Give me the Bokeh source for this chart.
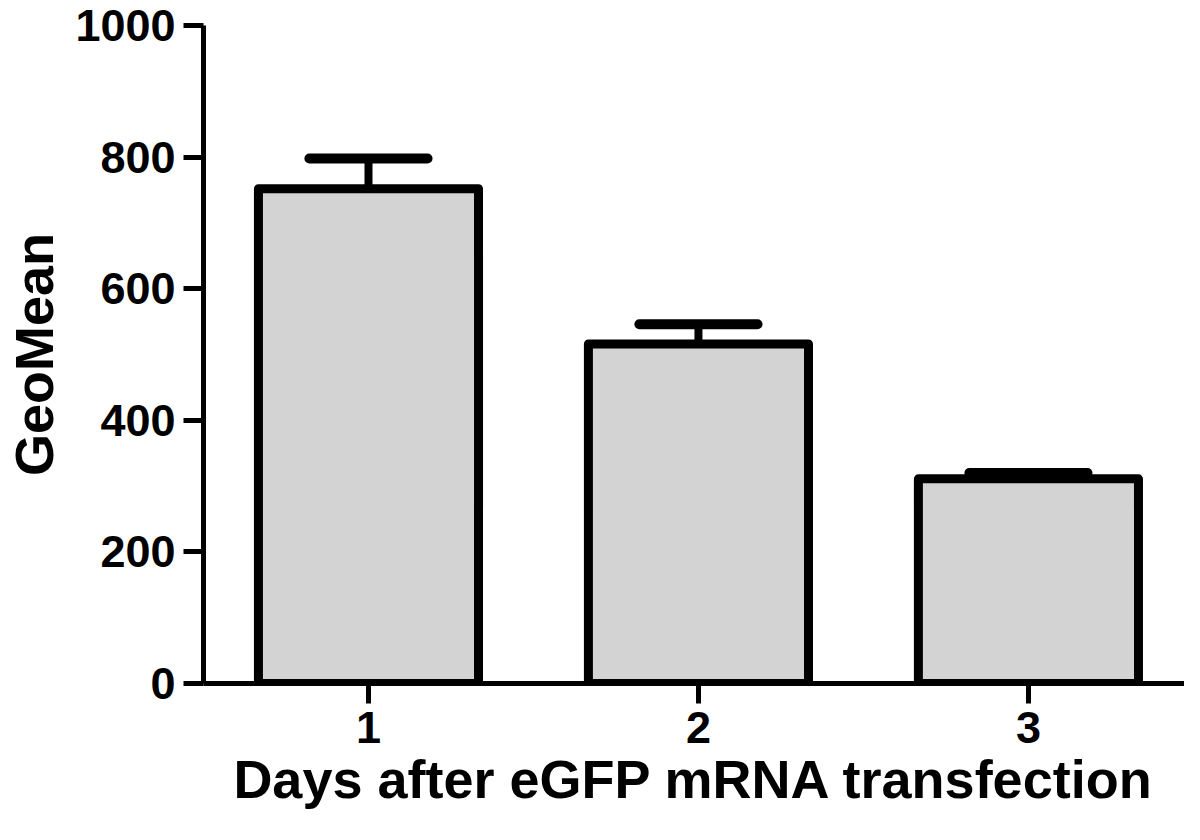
from bokeh.plotting import figure
from bokeh.models import FixedTicker, Range1d, ColumnDataSource
from bokeh.embed import file_html
from bokeh.resources import INLINE

# Data
days = [1, 2, 3]
day_labels = ["1", "2", "3"]
geomean = [752, 516, 311]
upper = [798, 546, 320]
y_ticks = [0, 200, 400, 600, 800, 1000]

FONT = "Liberation Sans"
BAR_W = 0.667
CAP_HALF = 0.179

src = ColumnDataSource(dict(
    x=days, top=geomean, up=upper,
    cl=[d - CAP_HALF for d in days], cr=[d + CAP_HALF for d in days],
))

p = figure(width=1184, height=824, output_backend="svg", toolbar_location=None,
           x_range=Range1d(0.5, 3.473), y_range=Range1d(0, 1000),
           min_border_left=203, min_border_right=0, min_border_top=25,
           min_border_bottom=141)
p.background_fill_color = "white"
p.border_fill_color = "white"
p.outline_line_color = None
p.xgrid.visible = False
p.ygrid.visible = False

# error bars (stem + cap)
p.segment(x0="x", y0="top", x1="x", y1="up", source=src,
          line_color="black", line_width=8)
p.segment(x0="cl", y0="up", x1="cr", y1="up", source=src,
          line_color="black", line_width=10, line_cap="round")

# bars
p.vbar(x="x", top="top", bottom=0, width=BAR_W, source=src,
       fill_color="#d3d3d3", line_color="black", line_width=9,
       line_join="round")

for ax in (p.xaxis, p.yaxis):
    ax.axis_line_width = 5
    ax.axis_line_color = "black"
    ax.major_tick_line_width = 5
    ax.major_tick_line_color = "black"
    ax.major_tick_out = 20
    ax.major_tick_in = 0
    ax.minor_tick_line_color = None
    ax.major_label_text_font = FONT
    ax.major_label_text_font_style = "bold"
    ax.major_label_text_font_size = "45px"
    ax.major_label_text_color = "black"
    ax.axis_label_text_font = FONT
    ax.axis_label_text_font_style = "bold"
    ax.axis_label_text_font_size = "54px"
    ax.axis_label_text_color = "black"

p.xaxis.ticker = FixedTicker(ticks=days)
p.xaxis.major_label_overrides = {d: l for d, l in zip(days, day_labels)}
p.xaxis.major_label_standoff = 8
p.xaxis.axis_label = "Days after eGFP mRNA transfection"
p.xaxis.axis_label_standoff = 3

p.yaxis.ticker = FixedTicker(ticks=y_ticks)
p.yaxis.major_label_standoff = 8
p.yaxis.axis_label = "GeoMean"
p.yaxis.axis_label_standoff = 8

open("out.html", "w").write(file_html(p, INLINE))
